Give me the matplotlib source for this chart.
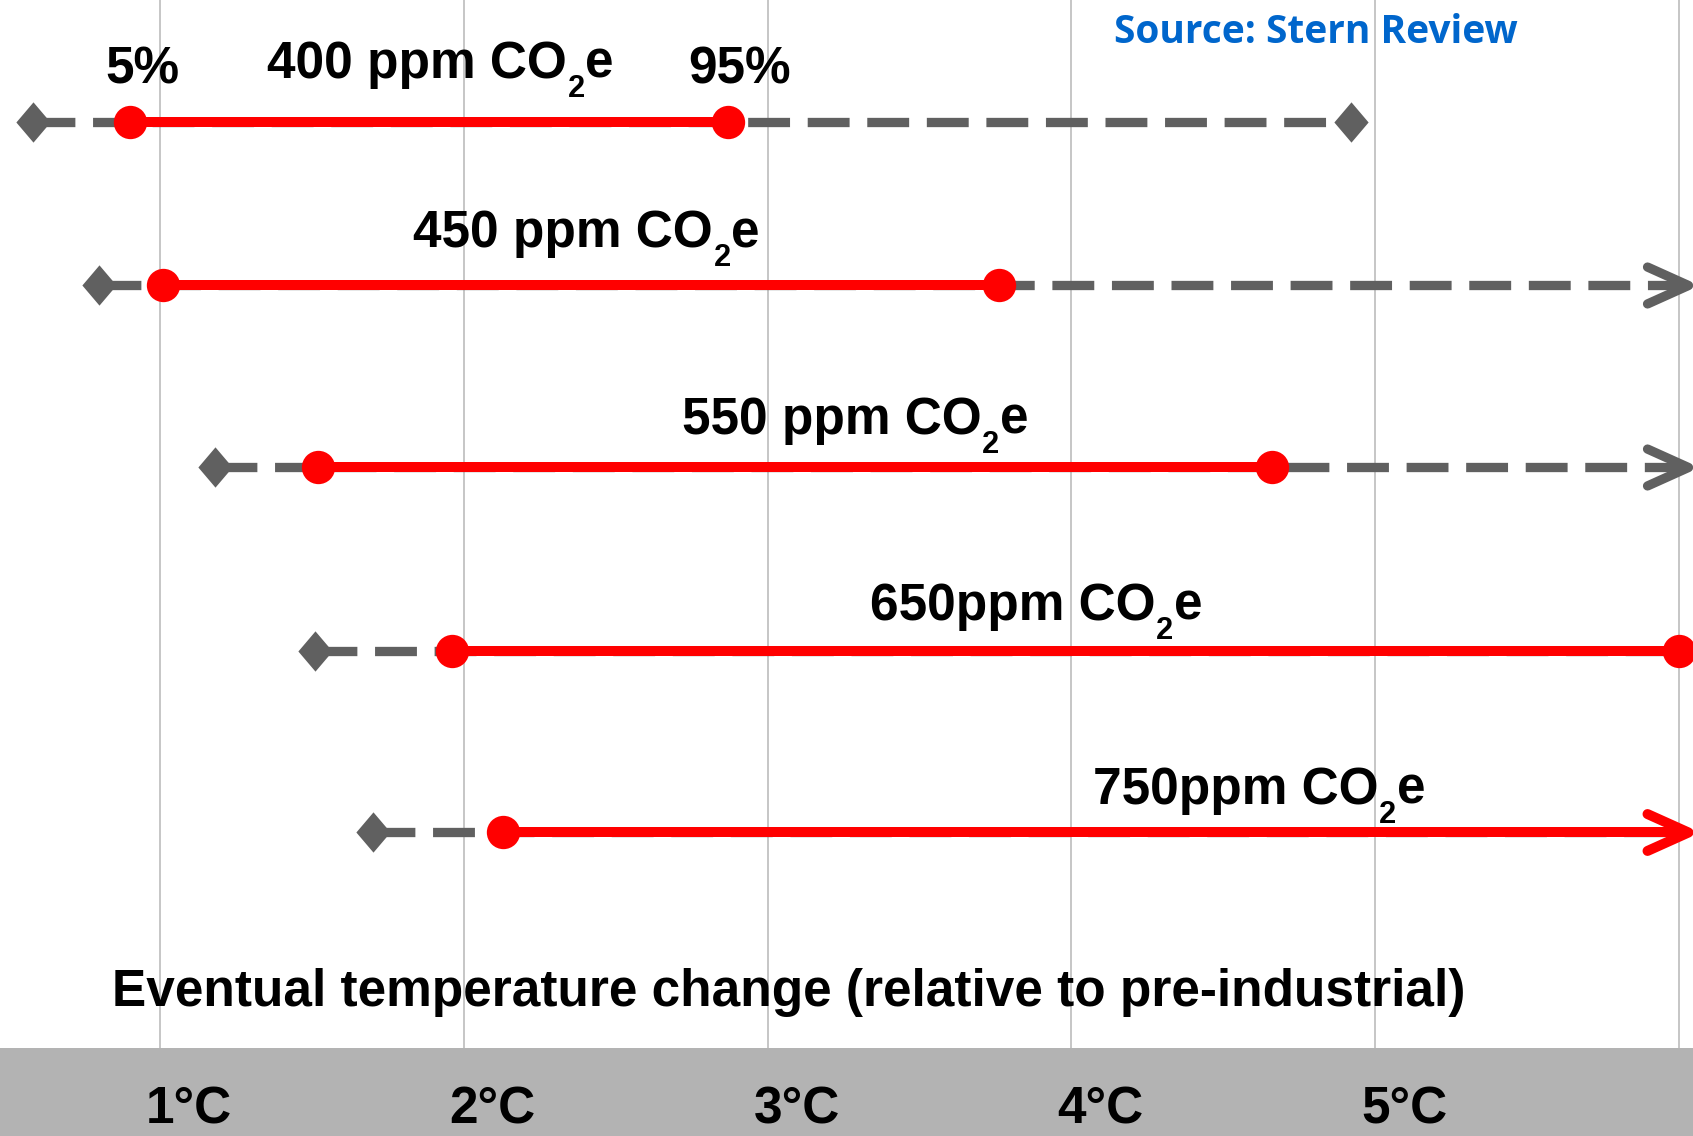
import numpy as np
import matplotlib.pyplot as plt
from matplotlib.path import Path
from matplotlib.markers import MarkerStyle

plt.rcParams['font.family'] = ['Liberation Sans', 'DejaVu Sans']

# values, in degrees C (None = beyond the right edge)
heads = ['400 ppm', '450 ppm', '550 ppm', '650ppm', '750ppm']
low_outer = [0.58, 0.80, 1.18, 1.51, 1.70]    # grey diamonds
low_5 = [0.90, 1.01, 1.52, 1.96, 2.13]        # red dots, 5%
high_95 = [2.87, 3.76, 4.66, 6.0, None]       # red dots, 95%
high_outer = [4.92, None, None, None, None]   # grey diamonds
ticks = [1, 2, 3, 4, 5]
tick_labels = ['1°C', '2°C', '3°C', '4°C', '5°C']

# layout (y in pixels from the top)
W, H = 1693, 1136
row_y = [122, 285, 467, 651, 832]
label_x = [1.352, 1.833, 2.718, 3.337, 4.071]
label_y = [78, 247, 434, 620, 804]
band_top = 1048
x_min, x_max = 0.473, 6.046
x_tip = 6.03
fs = 37

red = '#ff0000'
grey = '#606060'

fig = plt.figure(figsize=(W / 100, H / 100), dpi=100)
ax = fig.add_axes([0, 0, 1, 1])
ax.set_xlim(x_min, x_max)
ax.set_ylim(H, 0)
ax.axis('off')

ax.axhspan(band_top, H, color='#b3b3b3', lw=0, zorder=0)
ax.vlines(np.arange(1, 7), 0, band_top, color='#bcbcbc', lw=1.2, zorder=1)

chev = MarkerStyle(Path([(-1, 0.45), (0, 0), (-1, -0.45)]), fillstyle='none',
                   capstyle='round', joinstyle='round')
diam = MarkerStyle(Path([(0, 1), (0.85, 0), (0, -1), (-0.85, 0), (0, 1)]))

for i in range(len(heads)):
    y = row_y[i]
    g_end = high_outer[i] if high_outer[i] is not None else x_tip
    r_end = high_95[i] if high_95[i] is not None else x_tip
    ax.plot([low_outer[i], g_end], [y, y], color=grey, lw=6.7, dashes=(4.5, 1.9),
            dash_capstyle='butt', zorder=2)
    ax.plot([low_5[i], r_end], [y, y], color=red, lw=7.2, solid_capstyle='butt', zorder=3)
    ax.plot(low_outer[i], y, marker=diam, color=grey, ms=29, mew=0, zorder=4)
    if high_outer[i] is not None:
        ax.plot(high_outer[i], y, marker=diam, color=grey, ms=29, mew=0, zorder=4)
    ax.plot(low_5[i], y, 'o', color=red, ms=24, mew=0, zorder=5)
    if high_95[i] is not None:
        ax.plot(high_95[i], y, 'o', color=red, ms=24, mew=0, zorder=5)
        if high_outer[i] is None and high_95[i] < 5.9:
            ax.plot(x_tip, y, marker=chev, color=grey, ms=59, mew=6.7, zorder=4)
    else:
        ax.plot(x_tip, y, marker=chev, color=red, ms=59, mew=7.2, zorder=4)

    # "xxx ppm CO" + low subscript "2" + "e"
    t1 = ax.text(label_x[i], label_y[i], heads[i] + ' CO', ha='left', va='baseline',
                 fontsize=fs, fontweight='bold')
    t2 = ax.annotate('2', xy=(1, 0), xycoords=t1, xytext=(0.5, 11),
                     textcoords='offset points', ha='left', va='top',
                     fontsize=fs * 0.6, fontweight='bold')
    ax.annotate('e', xy=(1, 0), xycoords=(t2, t1), xytext=(0.5, 0),
                textcoords='offset points', ha='left', va='bottom',
                fontsize=fs, fontweight='bold')

ax.text(0.941, 83, '5%', ha='center', va='baseline', fontsize=fs, fontweight='bold')
ax.text(2.906, 83, '95%', ha='center', va='baseline', fontsize=fs, fontweight='bold')

ax.text(0.842, 1006, 'Eventual temperature change (relative to pre-industrial)',
        ha='left', va='baseline', fontsize=37, fontweight='bold')
ax.text(4.14, 43, 'Source: Stern Review', ha='left', va='baseline', fontsize=28,
        fontweight='bold', color='#0066cc', family=['Open Sans', 'DejaVu Sans'])

for t, lab in zip(ticks, tick_labels):
    ax.text(t + 0.095, 1124, lab, ha='center', va='baseline', fontsize=37,
            fontweight='bold')

fig.savefig('out.png', dpi=100)
